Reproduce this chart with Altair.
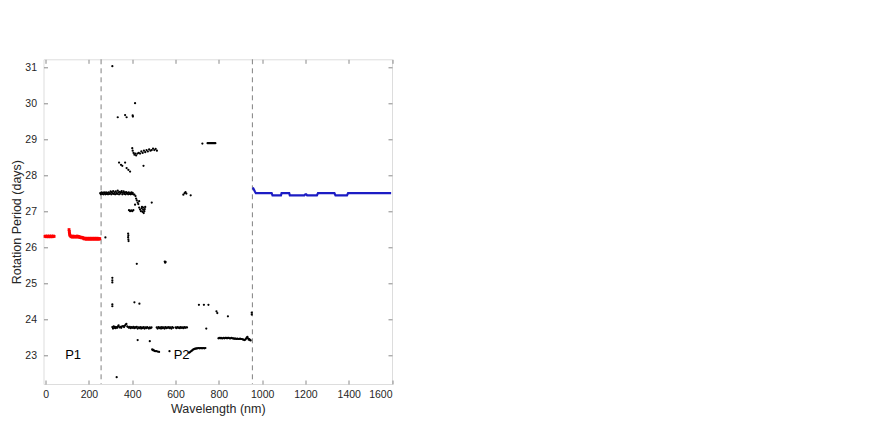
import altair as alt
import pandas as pd

# ---------------- data ----------------
X_TICKS = [0, 200, 400, 600, 800, 1000, 1200, 1400, 1600]
Y_TICKS = [23, 24, 25, 26, 27, 28, 29, 30, 31]
X_DOMAIN = [-10, 1600]
Y_DOMAIN = [22.2, 31.22]

DASHED_X = [256, 955]

LABEL_TEXT = ["P1", "P2"]
LABEL_X = [127, 628]
LABEL_Y = [23.0, 23.0]

RED = [(-3, 26.30), (0, 26.31), (3, 26.29), (6, 26.30), (9, 26.31), (12, 26.29), (15, 26.30),
       (18, 26.31), (21, 26.29), (24, 26.30), (27, 26.31), (30, 26.29), (33, 26.30), (36, 26.31),
       (39, 26.30),
       (108, 26.49), (109, 26.44), (110, 26.40), (111, 26.36), (112, 26.33), (115, 26.31),
       (118, 26.29), (121, 26.30), (124, 26.28), (127, 26.31), (130, 26.29), (133, 26.30),
       (136, 26.28), (139, 26.30), (142, 26.29), (145, 26.31), (148, 26.28), (151, 26.30),
       (154, 26.29), (157, 26.28), (160, 26.27), (163, 26.28), (166, 26.26), (169, 26.27),
       (172, 26.26), (175, 26.25), (178, 26.23), (181, 26.25), (184, 26.24), (187, 26.22),
       (190, 26.25), (193, 26.23), (196, 26.24), (199, 26.22), (202, 26.25), (205, 26.23),
       (208, 26.24), (211, 26.22), (214, 26.25), (217, 26.23), (220, 26.24), (223, 26.22),
       (226, 26.25), (229, 26.23), (232, 26.24), (235, 26.22), (238, 26.25), (241, 26.23),
       (244, 26.24), (247, 26.22), (250, 26.24)]

BLUE = [(957, 27.66), (962, 27.60), (967, 27.54), (971, 27.50), (1044, 27.50), (1048, 27.44),
        (1087, 27.44), (1090, 27.50), (1125, 27.50), (1128, 27.44), (1195, 27.44), (1200, 27.47),
        (1204, 27.47), (1208, 27.44), (1253, 27.44), (1258, 27.50), (1334, 27.50), (1339, 27.44),
        (1392, 27.44), (1397, 27.50), (1596, 27.50)]

BAND_275 = [(252, 27.50), (255, 27.47), (258, 27.52), (261, 27.48), (264, 27.51), (267, 27.47),
            (270, 27.52), (273, 27.49), (276, 27.47), (279, 27.52), (282, 27.48), (285, 27.51),
            (288, 27.47), (291, 27.52), (294, 27.48), (297, 27.50), (300, 27.55), (303, 27.47),
            (306, 27.53), (309, 27.49), (312, 27.56), (315, 27.48), (318, 27.52), (321, 27.47),
            (324, 27.55), (327, 27.50), (330, 27.48), (333, 27.57), (336, 27.52), (339, 27.47),
            (342, 27.54), (345, 27.49), (348, 27.52), (351, 27.56), (354, 27.47), (357, 27.51),
            (360, 27.55), (363, 27.48), (366, 27.52), (369, 27.47), (372, 27.53), (375, 27.49),
            (378, 27.51), (381, 27.47), (384, 27.52), (387, 27.48), (390, 27.50), (393, 27.47),
            (396, 27.52), (399, 27.48), (402, 27.51), (405, 27.47)]

BAND_2377 = [(308, 23.78), (311, 23.74), (314, 23.80), (317, 23.76), (320, 23.79), (323, 23.75),
             (326, 23.78), (330, 23.76), (334, 23.80), (337, 23.83), (341, 23.77), (345, 23.79),
             (349, 23.76), (353, 23.80), (358, 23.81), (362, 23.78), (366, 23.82), (370, 23.85),
             (373, 23.87), (377, 23.80), (381, 23.78), (385, 23.76), (389, 23.79), (393, 23.75),
             (397, 23.78), (401, 23.76), (405, 23.79), (409, 23.75), (413, 23.78), (417, 23.76),
             (421, 23.79), (425, 23.74), (429, 23.77), (433, 23.75), (437, 23.78), (441, 23.74),
             (445, 23.77), (449, 23.75), (453, 23.78), (457, 23.74), (461, 23.77), (465, 23.75),
             (469, 23.78), (473, 23.76), (477, 23.74), (481, 23.77), (485, 23.75), (489, 23.77),
             (513, 23.77), (517, 23.74), (521, 23.78), (525, 23.75), (529, 23.77), (533, 23.74),
             (537, 23.78), (541, 23.75), (545, 23.77), (549, 23.74), (553, 23.78), (557, 23.75),
             (561, 23.77), (565, 23.76), (569, 23.78), (573, 23.75), (577, 23.77), (581, 23.74),
             (585, 23.78), (589, 23.76), (600, 23.77), (604, 23.75), (608, 23.78), (612, 23.76),
             (616, 23.77), (620, 23.75), (624, 23.78), (628, 23.76), (632, 23.77), (636, 23.75),
             (640, 23.78), (644, 23.76), (648, 23.77), (653, 23.77), (742, 23.74)]

BAND_2345 = [(798, 23.47), (802, 23.48), (806, 23.47), (810, 23.48), (814, 23.47), (818, 23.47),
             (822, 23.48), (826, 23.47), (830, 23.48), (834, 23.48), (838, 23.47), (842, 23.48),
             (846, 23.48), (850, 23.47), (854, 23.47), (858, 23.48), (862, 23.47), (866, 23.47),
             (870, 23.46), (874, 23.46), (878, 23.46), (882, 23.45), (886, 23.46), (890, 23.45),
             (894, 23.45), (898, 23.46), (902, 23.45), (906, 23.45), (910, 23.44), (914, 23.43),
             (918, 23.42), (922, 23.43), (926, 23.46), (929, 23.49), (932, 23.51), (935, 23.47),
             (938, 23.43), (941, 23.45), (944, 23.42), (947, 23.41)]

BAND_P2 = [(662, 23.07), (666, 23.08), (670, 23.10), (674, 23.12), (678, 23.14), (682, 23.16),
           (686, 23.17), (690, 23.18), (694, 23.18), (698, 23.19), (702, 23.19), (706, 23.20),
           (710, 23.19), (714, 23.20), (718, 23.19), (722, 23.20), (726, 23.19), (730, 23.20),
           (734, 23.19), (738, 23.20)]

CLUSTER_231 = [(492, 23.16), (495, 23.14), (498, 23.15), (502, 23.12), (506, 23.11), (512, 23.11),
               (518, 23.10), (524, 23.09), (572, 23.11)]

SCATTER = [(308, 31.03), (413, 30.00),
           (333, 29.61), (367, 29.67), (374, 29.61), (402, 29.66), (403, 29.63),
           (400, 28.75), (402, 28.68), (406, 28.62), (410, 28.57), (414, 28.60), (418, 28.55),
           (424, 28.60), (430, 28.62), (436, 28.60), (442, 28.66), (448, 28.62), (454, 28.68),
           (460, 28.64), (466, 28.70), (472, 28.66), (478, 28.72), (484, 28.68), (490, 28.70),
           (496, 28.74), (502, 28.70), (508, 28.73), (514, 28.68),
           (724, 28.88), (748, 28.89), (752, 28.89), (756, 28.89), (760, 28.89), (764, 28.89),
           (768, 28.89), (772, 28.89), (776, 28.89), (780, 28.89), (784, 28.89),
           (339, 28.35), (348, 28.29), (354, 28.26), (367, 28.35), (374, 28.20), (382, 28.15),
           (390, 28.10), (452, 28.26),
           (410, 27.46), (415, 27.42), (418, 27.35), (421, 27.30), (425, 27.24), (428, 27.20),
           (432, 27.28), (413, 27.18), (490, 27.24),
           (385, 27.03), (390, 27.00), (395, 27.02), (400, 27.00), (405, 27.03),
           (432, 27.10), (436, 27.05), (440, 27.00), (444, 27.08), (448, 26.98), (450, 27.04),
           (453, 26.95), (456, 27.00), (458, 27.06), (460, 27.12), (445, 27.12), (452, 27.10),
           (636, 27.46), (642, 27.50), (646, 27.53), (650, 27.49), (670, 27.44),
           (276, 26.27), (381, 26.38), (382, 26.33), (381, 26.28), (382, 26.22), (383, 26.17),
           (421, 25.54), (550, 25.60), (552, 25.57), (554, 25.59),
           (308, 25.15), (308, 25.08), (308, 25.02),
           (308, 24.41), (308, 24.36), (410, 24.47), (433, 24.43),
           (708, 24.40), (731, 24.40), (752, 24.40), (789, 24.22), (793, 24.17), (842, 24.08),
           (952, 24.18), (952, 24.13),
           (425, 23.42), (481, 23.39), (328, 22.39)]

# ---------------- build tables ----------------
black_pts = BAND_275 + BAND_2377 + BAND_2345 + BAND_P2 + CLUSTER_231 + SCATTER
black_df = pd.DataFrame(black_pts, columns=["x", "y"])
red_df = pd.DataFrame(RED, columns=["x", "y"])
blue_df = pd.DataFrame(BLUE, columns=["x", "y"])
rule_df = pd.DataFrame({"x": DASHED_X})
label_df = pd.DataFrame({"text": LABEL_TEXT, "x": LABEL_X, "y": LABEL_Y})

FONT = "Liberation Sans"
TXT = "#262626"
BOX = "#8a8a8a"

xs = alt.Scale(domain=X_DOMAIN, nice=False, zero=False)
ys = alt.Scale(domain=Y_DOMAIN, nice=False, zero=False)

x_main = alt.X("x:Q", scale=xs, axis=alt.Axis(
    values=X_TICKS, format="d", ticks=False, tickSize=0, domain=False, grid=False, labelPadding=5,
    title="Wavelength (nm)", titlePadding=3, labelFontSize=10.5, titleFontSize=12.5,
    labelColor=TXT, titleColor=TXT, titleFontWeight="normal", labelFont=FONT, titleFont=FONT))
y_main = alt.Y("y:Q", scale=ys, axis=alt.Axis(
    values=Y_TICKS, format="d", ticks=False, tickSize=0, domain=False, grid=False, labelPadding=7,
    title="Rotation Period (days)", titlePadding=1, labelFontSize=10.5, titleFontSize=12.5,
    labelColor=TXT, titleColor=TXT, titleFontWeight="normal", labelFont=FONT, titleFont=FONT))

black = alt.Chart(black_df).mark_point(filled=True, shape="circle", size=5, color="black",
                                       opacity=1).encode(x=x_main, y=y_main)

red = alt.Chart(red_df).mark_point(filled=True, shape="square", size=8, color="#ff0000",
                                   opacity=1).encode(
    x=alt.X("x:Q", scale=xs, axis=None), y=alt.Y("y:Q", scale=ys, axis=None))

blue = alt.Chart(blue_df).mark_line(color="#1c1cc4", strokeWidth=2.2).encode(
    x=alt.X("x:Q", scale=xs, axis=None), y=alt.Y("y:Q", scale=ys, axis=None))

rules = alt.Chart(rule_df).mark_rule(color="#808080", strokeDash=[5, 4], strokeWidth=1).encode(
    x=alt.X("x:Q", scale=xs, axis=None))

labels = alt.Chart(label_df).mark_text(font=FONT, fontSize=13, color="black").encode(
    x=alt.X("x:Q", scale=xs, axis=None), y=alt.Y("y:Q", scale=ys, axis=None), text="text:N")


def tick_axis(orient, values):
    return alt.Axis(orient=orient, values=values, labels=False, domain=False, grid=False,
                    ticks=True, tickSize=4, tickColor=BOX, tickWidth=1, offset=-4, title=None)


ticks_bl = alt.Chart(black_df).mark_point(opacity=0).encode(
    x=alt.X("x:Q", scale=xs, axis=tick_axis("bottom", X_TICKS)),
    y=alt.Y("y:Q", scale=ys, axis=tick_axis("left", Y_TICKS)))
ticks_tr = alt.Chart(black_df).mark_point(opacity=0).encode(
    x=alt.X("x:Q", scale=xs, axis=tick_axis("top", X_TICKS)),
    y=alt.Y("y:Q", scale=ys, axis=tick_axis("right", Y_TICKS)))

chart = alt.layer(rules, red, blue, black, labels, ticks_bl, ticks_tr).resolve_axis(
    x="independent", y="independent"
).properties(
    width=348.5, height=324.7,
    autosize=alt.AutoSizeParams(type="none"),
    padding={"left": 35.5, "top": 51.3, "right": 20, "bottom": 35},
).configure_view(stroke=BOX, strokeWidth=1).configure(background="white")

chart.save("out.html", embed_options={"renderer": "svg", "actions": False})
